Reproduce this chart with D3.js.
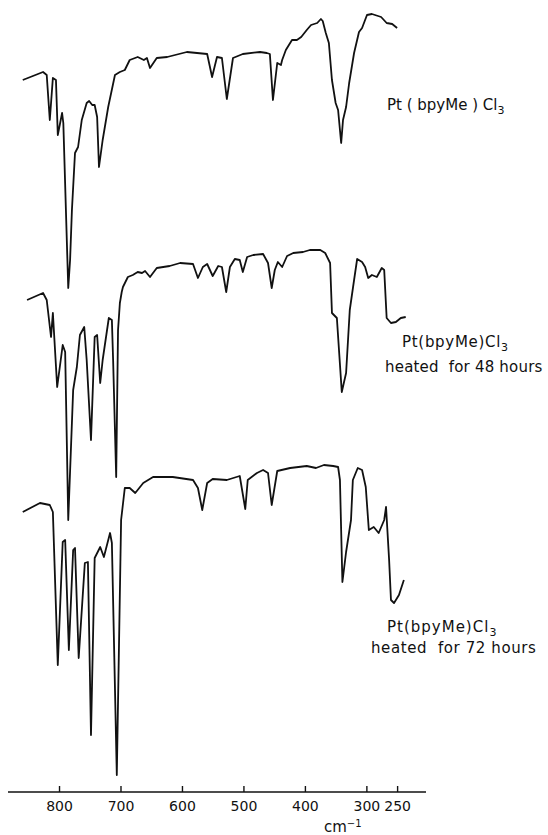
<!DOCTYPE html>
<html>
<head>
<meta charset="utf-8">
<script src="https://cdn.jsdelivr.net/npm/d3@7"></script>
<style>
  body { margin: 0; background: #fff; }
  svg { display: block; }
  .lbl { font-family: "DejaVu Sans", sans-serif; font-size: 15px; fill: #111; }
  .axis text { font-family: "DejaVu Sans", sans-serif; font-size: 14px; fill: #111; }
</style>
</head>
<body>
<svg id="chart" width="548" height="835"></svg>
<script>
// wavenumber (cm-1), relative transmittance (stacked, arbitrary units)
var plain = [
  [859,712],[826,720],[820,717],[815,672],[810,714],[805,712],[802,657],[795,679],[793,669],
  [785,504],[782,532],[779,582],[774,639],[769,645],[763,672],[755,689],[751,691],[746,687],
  [742,687],[738,675],[735,625],[729,652],[720,685],[709,717],[701,720],[693,722],[685,732],
  [672,735],[662,732],[657,734],[652,724],[641,734],[624,735],[592,740],[559,738],[551,715],
  [543,735],[535,734],[527,693],[517,734],[501,738],[473,740],[462,739],[457,738],[452,692],
  [445,729],[439,727],[437,732],[431,742],[421,752],[413,752],[406,755],[397,762],[390,767],
  [380,769],[374,773],[371,771],[366,759],[361,749],[356,712],[350,689],[346,682],[341,649],
  [338,672],[333,685],[328,709],[320,739],[312,760],[307,764],[299,777],[291,778],[276,775],
  [267,769],[258,768],[250,764]
];
var heated48 = [
  [852,492],[826,499],[820,492],[813,455],[810,479],[803,405],[794,447],[790,440],[785,272],
  [777,402],[771,425],[766,457],[759,465],[755,432],[748,352],[742,455],[738,457],[733,409],
  [729,432],[719,474],[714,472],[712,432],[707,315],[704,462],[701,489],[698,500],[696,505],
  [688,515],[680,517],[672,520],[665,519],[660,521],[652,515],[641,524],[620,526],[603,529],
  [582,528],[574,514],[566,525],[559,528],[550,516],[541,526],[535,525],[528,500],[522,525],
  [514,533],[506,532],[501,520],[494,535],[484,537],[468,538],[460,529],[454,504],[449,522],
  [444,530],[437,525],[429,536],[419,539],[403,540],[392,542],[375,542],[367,539],[359,529],
  [356,479],[348,474],[340,400],[333,419],[327,482],[320,512],[315,533],[307,530],[302,525],
  [297,514],[291,517],[283,515],[275,524],[271,522],[267,474],[260,469],[252,470],[244,474],
  [236,475]
];
var heated72 = [
  [859,280],[831,289],[815,287],[810,280],[802,127],[794,250],[790,252],[784,142],[777,242],
  [774,244],[768,134],[758,229],[753,230],[748,57],[742,234],[733,245],[727,235],[717,259],
  [714,249],[706,17],[699,272],[693,304],[685,304],[676,299],[663,309],[647,315],[615,315],
  [582,312],[574,304],[567,282],[559,309],[550,313],[527,312],[506,316],[497,283],[493,312],
  [478,319],[468,322],[460,319],[454,287],[445,321],[424,324],[397,326],[382,324],[369,327],
  [354,326],[346,325],[343,312],[339,210],[333,240],[325,272],[322,312],[314,324],[307,322],
  [301,305],[296,262],[288,265],[280,259],[271,272],[268,285],[263,232],[260,192],[255,189],
  [247,197],[239,212]
];
var tickValues = [800, 700, 600, 500, 400, 300, 250];

var svg = d3.select("#chart");

var x = d3.scaleLinear().domain([883, 203]).range([8, 426]);
var y = d3.scaleLinear().domain([0, 780]).range([792, 12]);

var line = d3.line()
  .x(function(d) { return x(d[0]); })
  .y(function(d) { return y(d[1]); });

[plain, heated48, heated72].forEach(function(s) {
  svg.append("path")
    .datum(s)
    .attr("d", line)
    .attr("fill", "none")
    .attr("stroke", "#111")
    .attr("stroke-width", 1.8)
    .attr("stroke-linejoin", "round");
});

var axis = d3.axisBottom(x)
  .tickValues(tickValues)
  .tickSizeInner(-6)
  .tickSizeOuter(0)
  .tickPadding(9)
  .tickFormat(d3.format("d"));

var g = svg.append("g")
  .attr("class", "axis")
  .attr("transform", "translate(0," + y(0) + ")")
  .call(axis);
g.selectAll("path, line").attr("stroke", "#111").attr("stroke-width", 1.4);
g.select(".domain").attr("d", "M8,0H426");

// spectrum labels
function label(lines) {
  lines.forEach(function(l) {
    var t = svg.append("text").attr("class", "lbl")
      .attr("x", l.x).attr("y", l.y)
      .attr("letter-spacing", l.ls || 0)
      .attr("xml:space", "preserve");
    if (l.sub) {
      t.append("tspan").text(l.text);
      t.append("tspan").attr("dy", 4).attr("font-size", 11).text("3");
    } else {
      t.text(l.text);
    }
  });
}
label([{x: 387, y: 110, text: "Pt ( bpyMe ) Cl", sub: true}]);
label([{x: 402, y: 347, text: "Pt(bpyMe)Cl", sub: true, ls: 0.7},
       {x: 385, y: 372, text: "heated  for 48 hours", ls: 0.2}]);
label([{x: 387, y: 632, text: "Pt(bpyMe)Cl", sub: true, ls: 1},
       {x: 371, y: 653, text: "heated  for 72 hours", ls: 0.6}]);

var unit = svg.append("text").attr("class", "lbl")
  .attr("x", 324).attr("y", 832).attr("font-size", 14);
unit.append("tspan").text("cm");
unit.append("tspan").attr("dy", -5).attr("font-size", 10).text("−1");
</script>
</body>
</html>
